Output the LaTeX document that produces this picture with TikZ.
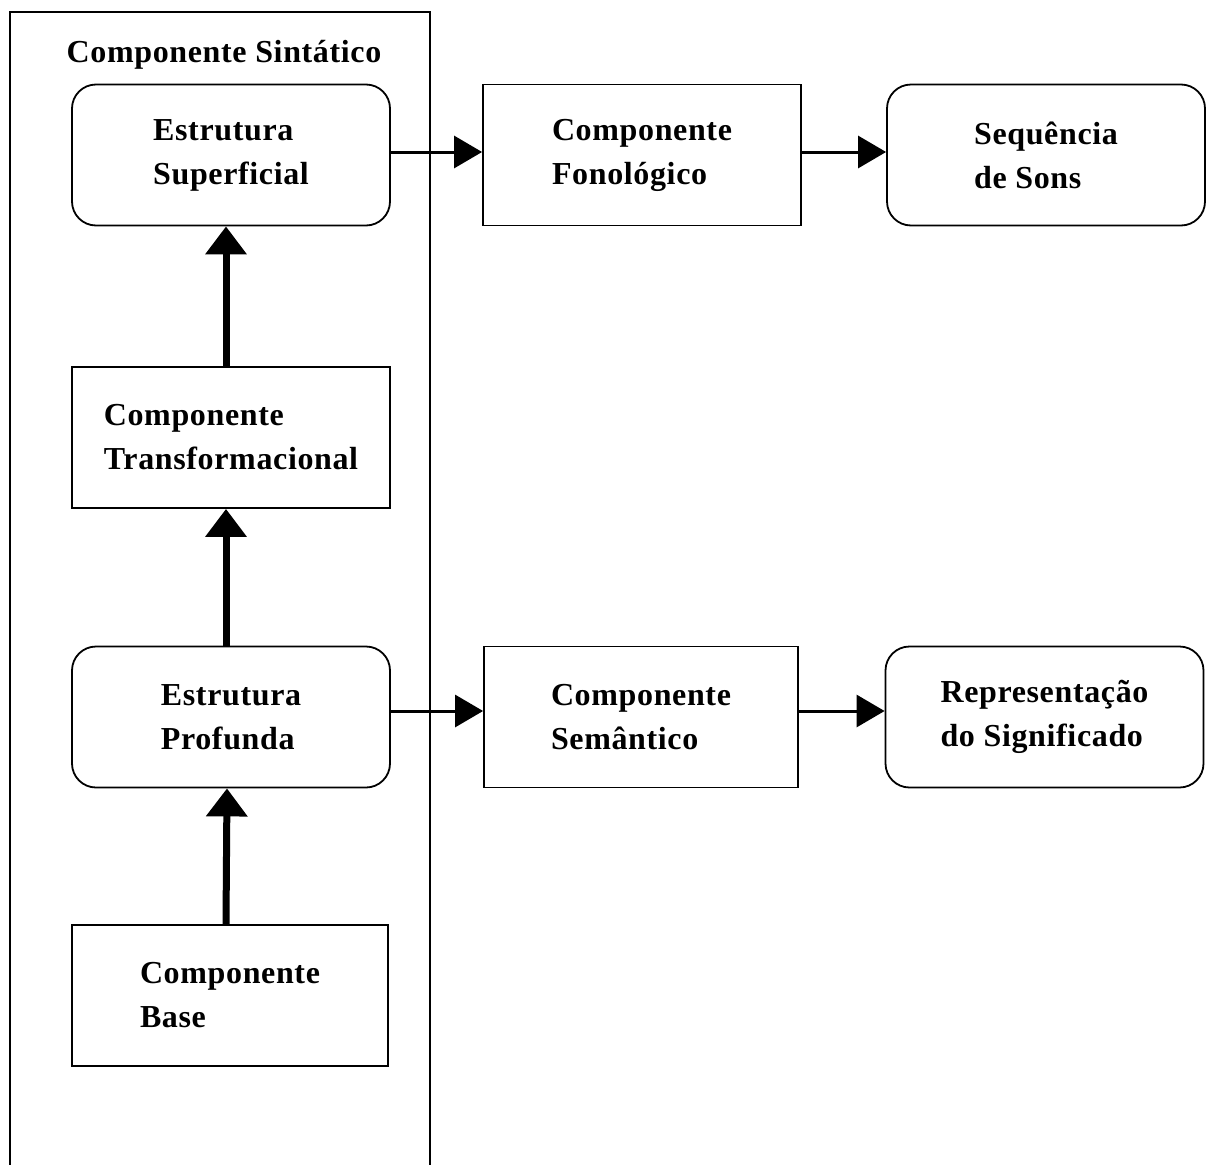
\documentclass[tikz,border=0pt]{standalone}
\usepackage{fontspec}
\setmainfont{Liberation Serif}[LetterSpace=2]
\usetikzlibrary{arrows.meta}
\begin{document}
\begin{tikzpicture}[x=1pt,y=-1pt,
  box/.style={draw,line width=1.8pt,fill=white,minimum width=318pt,minimum height=141pt,
    align=left,inner sep=0pt,font=\fontsize{32}{44}\selectfont\bfseries},
  rbox/.style={box,rounded corners=24pt},
  harrow/.style={line width=3pt,-{Triangle[length=28pt,width=32pt]}},
  varrow/.style={line width=7pt,-{Triangle[length=28pt,width=40pt]}},
  frame/.style={line width=2pt}]
\useasboundingbox (0,0) rectangle (1211,1165);

% frame of the syntactic component, open at the foot
\draw[frame] (10,1175) -- (10,12) -- (430,12) -- (430,1175);
\node[font=\fontsize{32}{36}\selectfont\bfseries] (title) at (224,55) {Componente Sintático};

% boxes
\node[rbox] (ss) at (231,155) {Estrutura\\Superficial};
\node[box]  (cf) at (642,155) {Componente\\Fonológico};
\node[rbox] (sq) at (1046,155) {Sequência\\de Sons};
\node[box]  (ct) at (231,437.5) {Componente\\Transformacional};
\node[rbox] (ep) at (231,717) {Estrutura\\Profunda};
\node[box,minimum width=314pt] (cs) at (641,717) {Componente\\Semântico};
\node[rbox] (rs) at (1044.5,717) {Representação\\do Significado};
\node[box,minimum width=316pt] (cb) at (230,995.5) {Componente\\Base};

% connectors
\draw[harrow] ([yshift=3pt]ss.east) -- ([yshift=3pt]cf.west);
\draw[harrow] ([yshift=3pt]cf.east) -- ([yshift=3pt]sq.west);
\draw[harrow] ([yshift=6pt]ep.east) -- ([yshift=6pt]cs.west);
\draw[harrow] ([yshift=6pt]cs.east) -- ([yshift=6pt]rs.west);
\draw[varrow] ([xshift=-5pt]ct.north) -- ([xshift=-5pt]ss.south);
\draw[varrow] ([xshift=-5pt]ep.north) -- ([xshift=-5pt]ct.south);
\draw[varrow] ([xshift=-4pt]cb.north) -- ([xshift=-4pt]ep.south);
\end{tikzpicture}
\end{document}
